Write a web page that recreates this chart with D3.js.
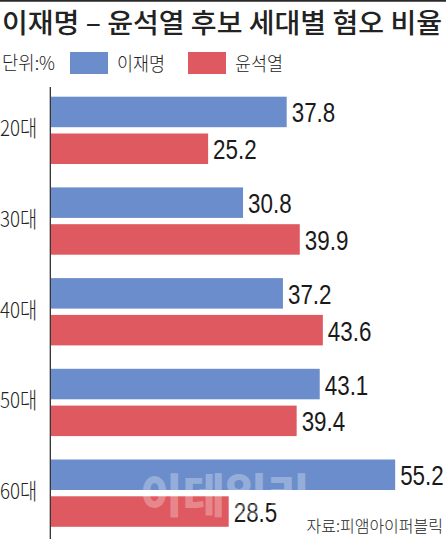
<!DOCTYPE html>
<html>
  <head>
    <title>세대별 혐오 비율</title>
    <meta charset="UTF-8" />
    <script src="https://d3js.org/d3.v7.min.js"></script>
    <style>
        body { margin: 0; background: #fff; }
        .kr { font-family: "Noto Sans CJK KR", "Noto Sans", sans-serif; }
        .num { font-family: "Liberation Sans Narrow", "Liberation Sans", sans-serif; }
    </style>
  </head>
  <body>
    <script>
        var categories = ["20대", "30대", "40대", "50대", "60대"]
        var seriesNames = ["이재명", "윤석열"]
        var leeValues = [37.8, 30.8, 37.2, 43.1, 55.2]
        var yoonValues = [25.2, 39.9, 43.6, 39.4, 28.5]
        var colors = ["#6b8dcb", "#de5960"]

        var width = 446
        var height = 539

        var svg = d3.select("body")
            .append("svg")
            .attr("width", width)
            .attr("height", height)

        // rows built from the arrays
        var rows = categories.map((c, i) => ({ cat: c, vals: [leeValues[i], yoonValues[i]] }))

        var xScale = d3.scaleLinear()
            .domain([0, 60])
            .range([51, 51 + 60 * 6.235])

        var yScale = d3.scaleBand()
            .domain(categories)
            .range([85, 538.5])
            .paddingInner(0.258)
            .paddingOuter(0.129)

        var ySub = d3.scaleBand()
            .domain(seriesNames)
            .range([0, yScale.bandwidth()])
            .paddingInner(0.171)

        // top rule
        svg.append("line")
            .attr("x1", 0).attr("x2", width)
            .attr("y1", 0.8).attr("y2", 0.8)
            .attr("stroke", "#2a2a2a")
            .attr("stroke-width", 1.8)

        svg.append("text")
            .attr("class", "kr")
            .attr("x", 2)
            .attr("y", 33)
            .attr("font-size", 27)
            .attr("font-weight", 500)
            .attr("fill", "#222")
            .attr("textLength", 440)
            .attr("lengthAdjust", "spacingAndGlyphs")
            .text("이재명 – 윤석열 후보 세대별 혐오 비율")

        // legend
        svg.append("text")
            .attr("class", "kr")
            .attr("x", 2).attr("y", 70)
            .attr("font-size", 19)
            .attr("font-weight", 300)
            .attr("fill", "#222")
            .attr("textLength", 53)
            .attr("lengthAdjust", "spacingAndGlyphs")
            .text("단위:%")

        var legendX = [70, 188]
        seriesNames.forEach((s, i) => {
            svg.append("rect")
                .attr("x", legendX[i]).attr("y", 52)
                .attr("width", 38).attr("height", 22)
                .attr("fill", colors[i])
            svg.append("text")
                .attr("class", "kr")
                .attr("x", legendX[i] + 47).attr("y", 71)
                .attr("font-size", 19)
                .attr("font-weight", 300)
                .attr("fill", "#222")
                .attr("textLength", 48)
                .attr("lengthAdjust", "spacingAndGlyphs")
                .text(s)
        })

        // bars
        var groups = svg.selectAll(".grp")
            .data(rows)
            .enter()
            .append("g")
            .attr("class", "grp")
            .attr("transform", d => "translate(0," + yScale(d.cat) + ")")

        groups.selectAll("rect")
            .data(d => d.vals.map((v, i) => ({ name: seriesNames[i], v: v, i: i })))
            .enter()
            .append("rect")
            .attr("x", xScale(0))
            .attr("y", d => ySub(d.name))
            .attr("width", d => xScale(d.v) - xScale(0))
            .attr("height", ySub.bandwidth())
            .attr("fill", d => colors[d.i])

        // value labels, squeezed sideways like the condensed face
        groups.selectAll(".val")
            .data(d => d.vals.map((v, i) => ({ name: seriesNames[i], v: v })))
            .enter()
            .append("text")
            .attr("class", "num val")
            .attr("transform", d => "translate(" + (xScale(d.v) + 5) + "," + (ySub(d.name) + ySub.bandwidth() / 2 + 10.5) + ") scale(0.8,1)")
            .attr("font-size", 28)
            .attr("fill", "#1a1a1a")
            .text(d => d3.format(".1f")(d.v))

        groups.append("text")
            .attr("class", "kr")
            .attr("transform", "translate(0," + (yScale.bandwidth() / 2 + 6) + ") scale(0.85,1)")
            .attr("font-size", 22)
            .attr("font-weight", 300)
            .attr("fill", "#222")
            .text(d => d.cat)

        // axis line
        svg.append("line")
            .attr("x1", 50.3).attr("x2", 50.3)
            .attr("y1", 87).attr("y2", height)
            .attr("stroke", "#222")
            .attr("stroke-width", 1.2)

        // watermark
        svg.append("text")
            .attr("class", "kr")
            .attr("x", 225).attr("y", 512)
            .attr("text-anchor", "middle")
            .attr("font-size", 46)
            .attr("font-weight", 900)
            .attr("fill", "#fff")
            .attr("fill-opacity", 0.3)
            .text("이데일리")

        svg.append("text")
            .attr("class", "kr")
            .attr("x", 443).attr("y", 532)
            .attr("text-anchor", "end")
            .attr("font-size", 16)
            .attr("font-weight", 300)
            .attr("fill", "#222")
            .text("자료:피앰아이퍼블릭")
    </script>
  </body>
</html>
